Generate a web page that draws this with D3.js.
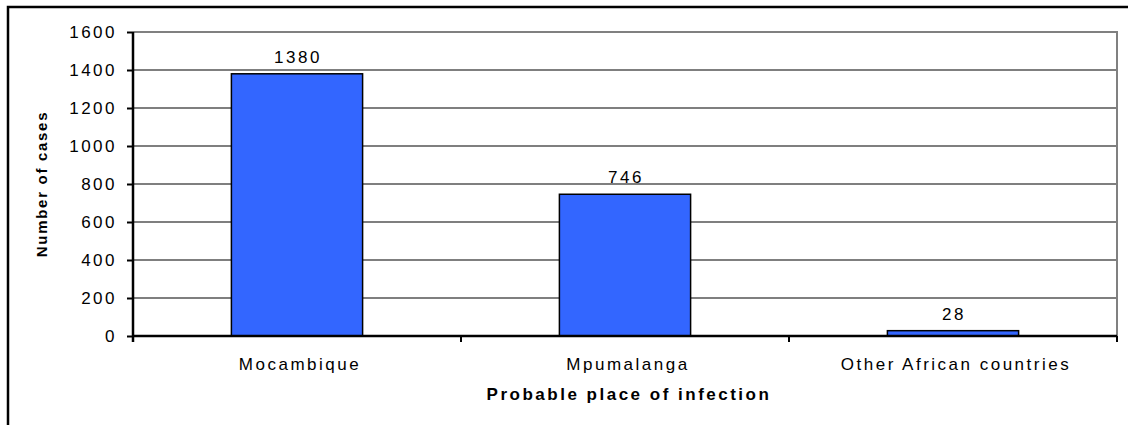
<!DOCTYPE html>
<html>
<head>
<meta charset="utf-8">
<script src="https://cdn.jsdelivr.net/npm/d3@7"></script>
<style>
  body { margin: 0; background: #fff; }
  svg { display: block; font-family: "Liberation Sans", Arial, sans-serif; }
</style>
</head>
<body>
<div id="chart"></div>
<script>
const width = 1128;
const height = 425;

// data
const places = ["Mocambique", "Mpumalanga", "Other African countries"];
const cases = [1380, 746, 28];
const yTicks = [0, 200, 400, 600, 800, 1000, 1200, 1400, 1600];

const plot = {left: 133, right: 1117, top: 32, bottom: 336};

const svg = d3.select("#chart")
    .append("svg")
    .attr("width", width)
    .attr("height", height);

// outer frame (runs off right/bottom edges)
svg.append("rect")
    .attr("x", 8).attr("y", 7)
    .attr("width", width).attr("height", height)
    .attr("fill", "#fff")
    .attr("stroke", "#000")
    .attr("stroke-width", 2.5);

const x = d3.scaleBand()
    .domain(places)
    .range([plot.left, plot.right])
    .paddingInner(0.6)
    .paddingOuter(0.3);

const y = d3.scaleLinear()
    .domain([0, 1600])
    .range([plot.bottom, plot.top]);

// grid lines
svg.append("g")
    .selectAll("line")
    .data(yTicks.filter(d => d > 0 && d < 1600))
    .join("line")
    .attr("x1", plot.left).attr("x2", plot.right)
    .attr("y1", d => y(d)).attr("y2", d => y(d))
    .attr("stroke", "#000")
    .attr("stroke-width", 1.2);

// grey top and right border of plot area
svg.append("path")
    .attr("d", `M${plot.left},${y(1600)}H${plot.right}V${plot.bottom}`)
    .attr("fill", "none")
    .attr("stroke", "#808080")
    .attr("stroke-width", 2);

// bars
svg.append("g")
    .selectAll("rect")
    .data(cases)
    .join("rect")
    .attr("x", (d, i) => x(places[i]))
    .attr("y", d => y(d))
    .attr("width", x.bandwidth())
    .attr("height", d => y(0) - y(d))
    .attr("fill", "#3366FF")
    .attr("stroke", "#000")
    .attr("stroke-width", 1.5);

// value labels
svg.append("g")
    .selectAll("text")
    .data(cases)
    .join("text")
    .attr("x", (d, i) => x(places[i]) + x.bandwidth() / 2 + 1)
    .attr("y", d => y(d) - 11)
    .attr("text-anchor", "middle")
    .attr("font-size", 17)
    .attr("letter-spacing", 2.5)
    .text(d => d);

// y axis
const yAxis = svg.append("g")
    .attr("transform", `translate(${plot.left},0)`)
    .call(d3.axisLeft(y).tickValues(yTicks).tickSize(6).tickPadding(10).tickFormat(d3.format("d")));
yAxis.select(".domain").attr("stroke", "#000").attr("stroke-width", 2.5)
    .attr("d", `M0,${plot.top}V${plot.bottom + 6}`);
yAxis.selectAll(".tick line").attr("stroke", "#000").attr("stroke-width", 2);
yAxis.selectAll(".tick text")
    .attr("font-size", 17)
    .attr("font-family", "Liberation Sans, Arial, sans-serif")
    .attr("letter-spacing", 2.5)
    .attr("fill", "#000");

// x axis: ticks at category boundaries
const bounds = d3.range(places.length + 1).map(i => plot.left + i * x.step());
const xAxis = svg.append("g");
xAxis.append("line")
    .attr("x1", plot.left).attr("x2", plot.right)
    .attr("y1", plot.bottom).attr("y2", plot.bottom)
    .attr("stroke", "#000").attr("stroke-width", 2.5);
xAxis.selectAll(".bt")
    .data(bounds)
    .join("line")
    .attr("class", "bt")
    .attr("x1", d => d).attr("x2", d => d)
    .attr("y1", plot.bottom).attr("y2", plot.bottom + 6)
    .attr("stroke", "#000").attr("stroke-width", 2);
xAxis.selectAll("text")
    .data(places)
    .join("text")
    .attr("x", d => x(d) + x.bandwidth() / 2 + 3)
    .attr("y", 370)
    .attr("text-anchor", "middle")
    .attr("font-size", 17)
    .attr("letter-spacing", 2.5)
    .text(d => d);

// axis titles
svg.append("text")
    .attr("x", 629)
    .attr("y", 400)
    .attr("text-anchor", "middle")
    .attr("font-size", 17)
    .attr("font-weight", "bold")
    .attr("letter-spacing", 2.5)
    .text("Probable place of infection");

svg.append("text")
    .attr("transform", `translate(47,${(plot.top + plot.bottom) / 2}) rotate(-90)`)
    .attr("text-anchor", "middle")
    .attr("font-size", 15)
    .attr("font-weight", "bold")
    .attr("letter-spacing", 1.7)
    .text("Number of cases");
</script>
</body>
</html>
